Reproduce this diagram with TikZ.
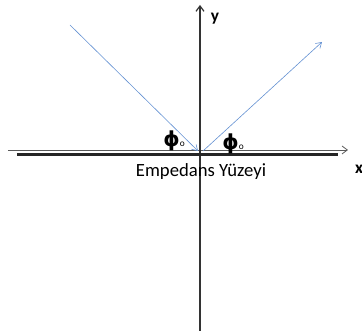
\documentclass[tikz,border=0pt]{standalone}
\usepackage{fontspec}
\setmainfont{Carlito}
\newfontfamily\phifont{DejaVu Sans}
\usepackage{tikz}
\usetikzlibrary{arrows.meta}
\definecolor{raycol}{RGB}{100,145,210}

\begin{document}
\begin{tikzpicture}[x=0.75pt,y=-0.75pt,every node/.style={font=\fontsize{14}{16}\selectfont}]
\useasboundingbox (0,0) rectangle (362,335);
\tikzset{axis/.style={draw=black!65,line width=0.6pt,-{Straight Barb[length=4pt,width=6pt]}},
         ray/.style={draw=raycol,line width=0.45pt,-{Straight Barb[length=4pt,width=5pt]}},
         aci/.style={inner sep=1pt}}
% eksenler
\coordinate (xl) at (8,150);
\coordinate (xr) at (348,150);
\coordinate (yb) at (200,331);
\coordinate (yt) at (200,5);
\draw[axis] (xl) -- (xr);
\draw[axis,draw=black!80,line width=0.9pt] (yb) -- (yt);
\node[font=\bfseries\fontsize{13}{15}\selectfont] (ylab) at (215,19) {y};
\node[font=\bfseries\fontsize{13}{15}\selectfont] (xlab) at (359,169) {x};
% yuzey
\coordinate (sl) at (17,154.5);
\coordinate (sr) at (338,154.5);
\draw[black!85,line width=1.6pt] (sl) -- (sr);
\node (yuzey) at (201,172) {Empedans Yüzeyi};
% gelen ve yansiyan dalga
\coordinate (gel) at (70,25);
\coordinate (o1) at (198,151);
\coordinate (o2) at (203,151);
\coordinate (yan) at (322,42);
\draw[ray] (gel) -- (o1);
\draw[ray] (o2) -- (yan);
\node[aci] (phi1) at (174,141) {{\phifont\bfseries\fontsize{15.5}{17}\selectfont ϕ}{\scriptsize o}};
\node[aci] (phi2) at (233,144) {{\phifont\bfseries\fontsize{15.5}{17}\selectfont ϕ}{\scriptsize o}};
\end{tikzpicture}
\end{document}
